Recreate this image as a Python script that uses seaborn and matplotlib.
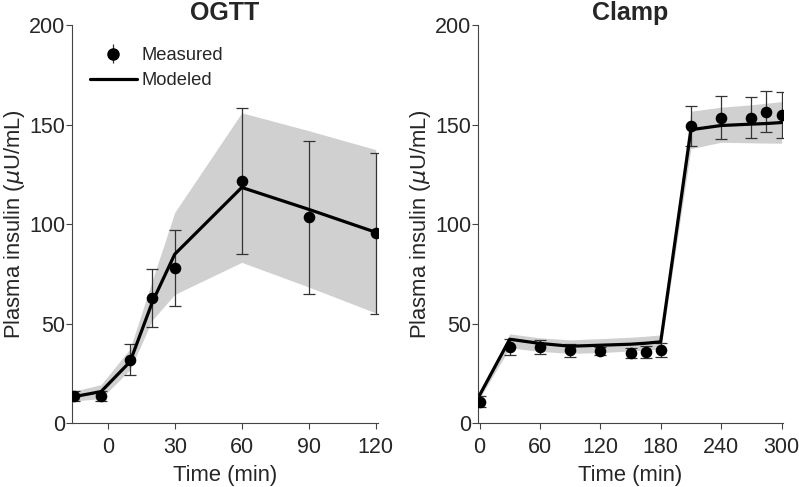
import matplotlib
matplotlib.use("Agg")
import matplotlib.pyplot as plt
import seaborn as sns
import numpy as np
import pandas as pd
from matplotlib.lines import Line2D

# ---------------- data ----------------
# OGTT measured
ogtt_t = [-15, -3, 10, 20, 30, 60, 90, 120]
ogtt_meas = [13.8, 13.8, 32.0, 62.8, 78.2, 121.7, 103.6, 95.4]
ogtt_err = [2.6, 2.6, 7.7, 14.6, 19.0, 36.7, 38.4, 40.5]
# OGTT modeled
ogtt_model = [13.5, 16.0, 31.0, 61.0, 85.0, 118.5, 107.5, 96.0]
ogtt_lo = [11.3, 12.5, 27.0, 52.0, 64.8, 80.9, 68.5, 55.5]
ogtt_hi = [16.3, 19.5, 37.5, 72.0, 106.0, 156.0, 147.0, 137.5]

# Clamp measured
clamp_t = [0, 30, 60, 90, 120, 150, 165, 180, 210, 240, 270, 285, 300]
clamp_meas = [11.0, 38.5, 38.3, 36.8, 36.2, 35.3, 35.9, 36.8, 149.3, 153.6, 153.6, 156.6, 154.8]
clamp_err = [2.8, 4.0, 3.5, 3.2, 2.0, 2.5, 3.0, 3.5, 10.0, 10.7, 10.3, 10.4, 11.6]
# Clamp modeled
clamp_model = [14.2, 42.3, 40.2, 38.8, 39.3, 39.8, 40.3, 41.0, 147.5, 149.6, 150.3, 150.6, 151.1]
clamp_lo = [12.6, 38.0, 36.2, 35.2, 35.6, 36.4, 36.8, 37.5, 138.0, 141.2, 140.9, 140.8, 140.7]
clamp_hi = [15.9, 45.0, 43.0, 42.0, 42.6, 43.3, 43.8, 44.5, 156.8, 158.8, 160.0, 160.8, 161.6]

titles = ["OGTT", "Clamp"]
ylabel = "Plasma insulin ($\\mu$U/mL)"
xlabel = "Time (min)"
ogtt_xticks = [0, 30, 60, 90, 120]
clamp_xticks = [0, 60, 120, 180, 240, 300]
yticks = [0, 50, 100, 150, 200]

# ---------------- style ----------------
sns.set_style("ticks")
plt.rcParams["font.family"] = ["Liberation Sans", "DejaVu Sans"]
plt.rcParams["mathtext.fontset"] = "dejavusans"

fig = plt.figure(figsize=(7.99, 4.87), dpi=100)
ax1 = fig.add_axes([0.0901, 0.1304, 0.383, 0.818])
ax2 = fig.add_axes([0.5983, 0.1304, 0.3817, 0.818])

band_color = "#d0d0d0"
err_color = "#333333"


def draw(ax, t, meas, err, model, lo, hi, title, xlim, xticks):
    ax.fill_between(t, lo, hi, color=band_color, linewidth=0, zorder=1)
    dfm = pd.DataFrame({"t": t, "y": model})
    sns.lineplot(data=dfm, x="t", y="y", ax=ax, color="black", linewidth=2.3,
                 zorder=3, legend=False)
    ax.errorbar(t, meas, yerr=err, fmt="none", ecolor=err_color, elinewidth=0.9,
                capsize=4, capthick=0.9, zorder=2)
    dfd = pd.DataFrame({"t": t, "y": meas})
    sns.scatterplot(data=dfd, x="t", y="y", ax=ax, color="black", s=70,
                    edgecolor="black", linewidth=0, zorder=4, legend=False)
    ax.set_xlim(*xlim)
    ax.set_ylim(0, 200)
    ax.set_xticks(xticks)
    ax.set_yticks(yticks)
    ax.set_xlabel(xlabel, fontsize=15.8, labelpad=5)
    ax.set_ylabel(ylabel, fontsize=15.8, labelpad=1)
    ax.set_title(title, fontsize=18, fontweight="bold", pad=4)
    ax.tick_params(axis="both", labelsize=15.5, length=4, width=0.8,
                   color="#444444", direction="out")
    ax.tick_params(axis="y", pad=1)
    ax.tick_params(axis="x", pad=5.5)
    for s in ["top", "right"]:
        ax.spines[s].set_visible(False)
    for s in ["left", "bottom"]:
        ax.spines[s].set_linewidth(0.8)
        ax.spines[s].set_color("#444444")


draw(ax1, ogtt_t, ogtt_meas, ogtt_err, ogtt_model, ogtt_lo, ogtt_hi,
     titles[0], (-16, 121), ogtt_xticks)
draw(ax2, clamp_t, clamp_meas, clamp_err, clamp_model, clamp_lo, clamp_hi,
     titles[1], (-1.5, 301.5), clamp_xticks)

# legend
eb = ax1.errorbar([], [], yerr=[], fmt="o", color="black", markersize=8,
                  ecolor=err_color, elinewidth=0.9, capsize=4, capthick=0.9)
ln = Line2D([], [], color="black", linewidth=2.3)
ax1.legend([eb, ln], ["Measured", "Modeled"], loc="upper left",
           bbox_to_anchor=(0.059, 0.945), frameon=False, fontsize=13.2,
           handlelength=2.55, handletextpad=0.27, labelspacing=0.45,
           borderaxespad=0, borderpad=0)

fig.savefig("out.png", dpi=100)
